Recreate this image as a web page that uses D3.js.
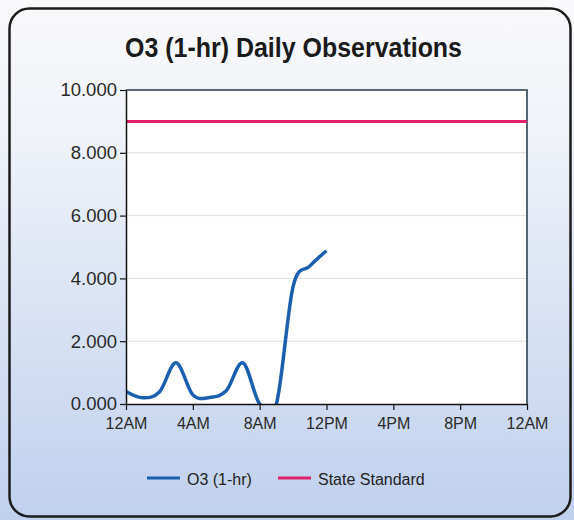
<!DOCTYPE html>
<html>
<head>
<meta charset="utf-8">
<script src="https://cdn.jsdelivr.net/npm/d3@7"></script>
<style>
  html, body { margin: 0; padding: 0; background: #fff; }
  svg { display: block; font-family: "Liberation Sans", Arial, sans-serif; }
</style>
</head>
<body>
<svg id="chart" width="574" height="520"></svg>
<script>
// hourly O3 readings (ppm), midnight to noon
const hours = [0, 1, 2, 3, 4, 5, 6, 7, 8, 9, 10, 11, 12];
const o3 = [0.40, 0.20, 0.38, 1.31, 0.29, 0.21, 0.42, 1.31, 0, 0, 3.74, 4.39, 4.88];

const standardHours = [0, 24];
const standard = [9.0, 9.0];

const yTicks = [0, 2, 4, 6, 8, 10];
const xTicks = [0, 4, 8, 12, 16, 20, 24];
const xTickLabels = ['12AM', '4AM', '8AM', '12PM', '4PM', '8PM', '12AM'];

const seriesNames = ['O3 (1-hr)', 'State Standard'];
const BLUE = '#1b5fb0';
const PINK = '#e0226c';

const W = 574, H = 520;
const PLOT = { left: 126, right: 527, top: 90, bottom: 404 };

const svg = d3.select('#chart');
const defs = svg.append('defs');

const grad = defs.append('linearGradient')
  .attr('id', 'bg').attr('x1', 0).attr('y1', 0).attr('x2', 0).attr('y2', 1);
grad.append('stop').attr('offset', '0%').attr('stop-color', '#f9f9fb');
grad.append('stop').attr('offset', '25%').attr('stop-color', '#f0f3f9');
grad.append('stop').attr('offset', '100%').attr('stop-color', '#bfd0ee');

defs.append('clipPath').attr('id', 'plot-clip')
  .append('rect')
    .attr('x', PLOT.left).attr('y', PLOT.top)
    .attr('width', PLOT.right - PLOT.left)
    .attr('height', PLOT.bottom - PLOT.top);

svg.append('rect')
  .attr('width', W).attr('height', H)
  .attr('fill', 'url(#bg)');

// rounded frame
svg.append('rect')
  .attr('x', 9.5).attr('y', 8.5)
  .attr('width', 561).attr('height', 508)
  .attr('rx', 20)
  .attr('fill', 'none')
  .attr('stroke', '#1c1c1c')
  .attr('stroke-width', 2.5);

svg.append('text')
  .attr('x', 125).attr('y', 57)
  .attr('textLength', 337)
  .attr('lengthAdjust', 'spacingAndGlyphs')
  .attr('font-size', 27)
  .attr('font-weight', 'bold')
  .attr('fill', '#1a1a1a')
  .text('O3 (1-hr) Daily Observations');

const x = d3.scaleLinear().domain([0, 24]).range([PLOT.left, PLOT.right]);
const y = d3.scaleLinear().domain([0, 10]).range([PLOT.bottom, PLOT.top]);

svg.append('rect')
  .attr('x', PLOT.left).attr('y', PLOT.top)
  .attr('width', PLOT.right - PLOT.left)
  .attr('height', PLOT.bottom - PLOT.top)
  .attr('fill', '#ffffff');

svg.append('g')
  .selectAll('line')
  .data(yTicks.filter(d => d > 0 && d < 10))
  .join('line')
    .attr('x1', PLOT.left).attr('x2', PLOT.right)
    .attr('y1', d => y(d)).attr('y2', d => y(d))
    .attr('stroke', '#dcdcdc')
    .attr('stroke-width', 1);

// top and right border of plot area
svg.append('path')
  .attr('d', `M${PLOT.left},${PLOT.top}H${PLOT.right}V${PLOT.bottom}`)
  .attr('fill', 'none')
  .attr('stroke', '#22374a')
  .attr('stroke-width', 1.5);

const series = svg.append('g').attr('clip-path', 'url(#plot-clip)');

const line = d3.line()
  .x(d => x(d[0]))
  .y(d => y(d[1]));

series.append('path')
  .datum(standardHours.map((h, i) => [h, standard[i]]))
  .attr('d', line)
  .attr('fill', 'none')
  .attr('stroke', PINK)
  .attr('stroke-width', 3);

series.append('path')
  .datum(hours.map((h, i) => [h, o3[i]]))
  .attr('d', line.curve(d3.curveCardinal.tension(0)))
  .attr('fill', 'none')
  .attr('stroke', BLUE)
  .attr('stroke-width', 3.5)
  .attr('stroke-linejoin', 'round');

const yAxis = svg.append('g')
  .attr('transform', `translate(${PLOT.left},0)`)
  .call(d3.axisLeft(y).tickValues(yTicks).tickFormat(d3.format('.3f')).tickSize(6).tickSizeOuter(0).tickPadding(3));
yAxis.select('.domain').attr('stroke', '#111').attr('stroke-width', 1.5);
yAxis.selectAll('.tick line').attr('stroke', '#111').attr('stroke-width', 1.2);
yAxis.selectAll('.tick text')
  .attr('font-size', 18.5)
  .attr('font-family', '"Liberation Sans", Arial, sans-serif')
  .attr('fill', '#2a2a2a');

const xAxis = svg.append('g')
  .attr('transform', `translate(0,${PLOT.bottom})`)
  .call(d3.axisBottom(x).tickValues(xTicks).tickFormat((d, i) => xTickLabels[i]).tickSize(6).tickSizeOuter(0).tickPadding(8));
xAxis.select('.domain').attr('stroke', '#111').attr('stroke-width', 1.5);
xAxis.selectAll('.tick line').attr('stroke', '#111').attr('stroke-width', 1.2);
xAxis.selectAll('.tick text')
  .attr('font-size', 16)
  .attr('font-family', '"Liberation Sans", Arial, sans-serif')
  .attr('fill', '#2a2a2a');

// legend
const legendItems = [
  { name: seriesNames[0], color: BLUE, x: 147 },
  { name: seriesNames[1], color: PINK, x: 278 },
];
const legend = svg.append('g');
const item = legend.selectAll('g')
  .data(legendItems)
  .join('g')
    .attr('transform', d => `translate(${d.x},478)`);
item.append('line')
  .attr('x1', 0).attr('x2', 33)
  .attr('stroke', d => d.color)
  .attr('stroke-width', 3);
item.append('text')
  .attr('x', 40).attr('y', 7)
  .attr('font-size', 16)
  .attr('fill', '#222')
  .text(d => d.name);
</script>
</body>
</html>
